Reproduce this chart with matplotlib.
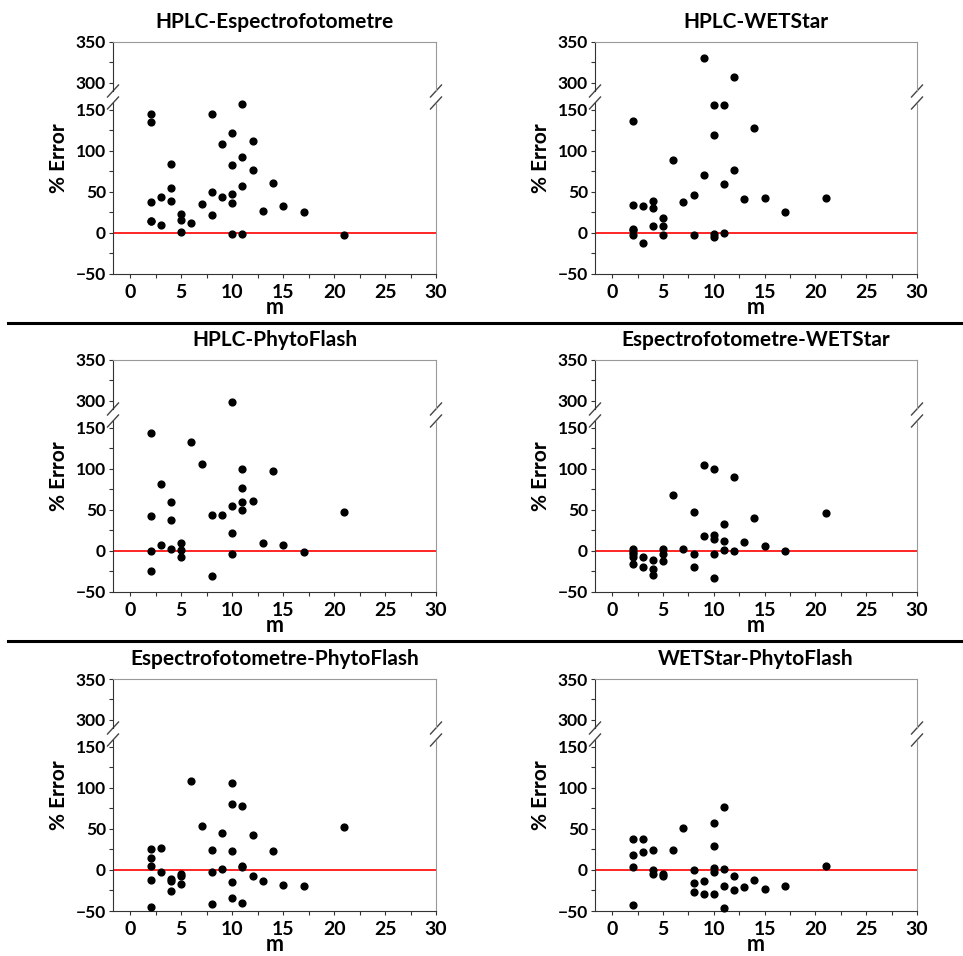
import numpy as np
import matplotlib.pyplot as plt
from matplotlib.lines import Line2D

plt.rcParams['font.family'] = ['Lato', 'DejaVu Sans']
plt.rcParams['font.weight'] = 'bold'

# Datos: m y % Error por comparacion
titulos = ['HPLC-Espectrofotometre', 'HPLC-WETStar',
           'HPLC-PhytoFlash', 'Espectrofotometre-WETStar',
           'Espectrofotometre-PhytoFlash', 'WETStar-PhytoFlash']

m_hplc_esp = [2, 2, 2, 2, 2, 3, 3, 4, 4, 4, 5, 5, 5, 6, 7, 8, 8, 8, 9, 9,
              10, 10, 10, 10, 10, 11, 11, 11, 11, 12, 12, 13, 14, 15, 17, 21]
err_hplc_esp = [145, 135, 37, 15, 14, 44, 9, 84, 55, 39, 23, 16, 1, 12, 35, 145, 50, 22, 108, 44,
                122, 82, 47, 36, -1, 157, 92, 57, -1, 112, 76, 27, 61, 33, 25, -3]

m_hplc_wet = [9, 12, 10, 11, 2, 14, 10, 6, 9, 12, 11, 8, 7, 13, 15, 17, 21,
              2, 2, 2, 2, 3, 3, 4, 4, 4, 5, 5, 5, 8, 10, 10, 11]
err_hplc_wet = [331, 307, 156, 156, 136, 127, 119, 89, 70, 76, 60, 46, 38, 41, 42, 26, 42,
                34, 5, 3, -2, 33, -12, 39, 30, 8, 18, 8, -2, -2, -1, -5, 0]

m_hplc_phy = [10, 2, 6, 7, 11, 14, 3, 11, 4, 11, 12, 10, 11, 21, 2, 8, 9, 4, 10, 13,
              3, 5, 15, 2, 4, 5, 17, 10, 5, 2, 8]
err_hplc_phy = [299, 144, 132, 106, 100, 97, 81, 76, 59, 59, 61, 54, 50, 47, 43, 44, 44, 37, 22, 10,
                7, 9, 7, 0, 2, 1, -1, -4, -8, -25, -30]

m_esp_wet = [9, 10, 12, 6, 8, 21, 14, 11, 9, 10, 10, 11, 13, 15, 7, 2, 2, 2, 2, 2,
             3, 3, 4, 4, 4, 5, 5, 5, 8, 8, 10, 10, 11, 12, 17]
err_esp_wet = [105, 100, 90, 68, 47, 46, 40, 33, 18, 19, 15, 12, 11, 6, 2, 2, -1, -4, -8, -16,
               -8, -20, -11, -22, -29, 2, -4, -12, -4, -20, -4, -33, 1, 0, 0]

m_esp_phy = [6, 10, 10, 11, 7, 21, 9, 12, 2, 3, 8, 10, 14, 2, 2, 11, 11, 9, 3, 8,
             5, 5, 12, 2, 4, 4, 13, 5, 10, 15, 17, 4, 10, 11, 8, 2]
err_esp_phy = [108, 106, 80, 78, 54, 52, 45, 43, 26, 27, 24, 23, 23, 14, 5, 5, 3, 1, -2, -3,
               -5, -7, -8, -12, -11, -14, -13, -17, -15, -18, -20, -26, -34, -40, -42, -45]

m_wet_phy = [11, 10, 7, 2, 3, 10, 4, 6, 3, 2, 2, 21, 4, 4, 5, 5, 8, 10, 10, 11,
             12, 14, 8, 9, 11, 13, 17, 12, 15, 8, 9, 10, 2, 11]
err_wet_phy = [77, 57, 51, 38, 37, 29, 24, 24, 22, 18, 4, 5, 0, -5, -5, -7, 0, 2, -2, 1,
               -7, -12, -16, -14, -20, -21, -20, -25, -23, -27, -29, -29, -43, -46]

series = [(m_hplc_esp, err_hplc_esp), (m_hplc_wet, err_hplc_wet),
          (m_hplc_phy, err_hplc_phy), (m_esp_wet, err_esp_wet),
          (m_esp_phy, err_esp_phy), (m_wet_phy, err_wet_phy)]

W, H = 963, 956
fig = plt.figure(figsize=(W / 100, H / 100), dpi=100)

col_x = [(113, 436), (595, 917)]
row_top = [42, 360, 679]


def px_axes(x0, x1, y0, y1):
    # caja en pixeles (y desde arriba) -> fraccion de figura
    return fig.add_axes([x0 / W, 1 - y1 / H, (x1 - x0) / W, (y1 - y0) / H])


def barra_corte(ax, ancho, alto, yfrac):
    dx = 5.5 / ancho
    dy = 6.0 / alto
    for xf in (0, 1):
        ax.plot([xf - dx, xf + dx], [yfrac - dy, yfrac + dy], transform=ax.transAxes,
                color='#444444', lw=1.0, clip_on=False)


for i, (titulo, (mx, err)) in enumerate(zip(titulos, series)):
    fila, col = divmod(i, 2)
    x0, x1 = col_x[col]
    t = row_top[fila]
    ax_sup = px_axes(x0, x1, t, t + 49)
    ax_inf = px_axes(x0, x1, t + 61, t + 232)

    mx = np.array(mx)
    err = np.array(err)
    alto = err > 200
    ax_sup.scatter(mx[alto], err[alto], s=24, color='black', zorder=3, clip_on=False)
    ax_inf.scatter(mx[~alto], err[~alto], s=24, color='black', zorder=3, clip_on=False)
    ax_inf.axhline(0, color='red', lw=1.2, zorder=2)

    ax_sup.set_ylim(290, 350)
    ax_inf.set_ylim(-50, 158)
    for ax in (ax_sup, ax_inf):
        ax.set_xlim(-1.7, 30)
        ax.spines['left'].set_color('#333333')
        ax.spines['right'].set_color('#999999')
        ax.spines['top'].set_color('#999999')
        ax.spines['bottom'].set_color('#333333')
        ax.tick_params(axis='y', which='both', direction='out', length=3, width=0.8,
                       labelsize=12.5, pad=2, colors='#333333', labelcolor='black')
        ax.tick_params(axis='x', which='both', direction='out', length=3, width=0.8,
                       labelsize=14, pad=4, colors='#333333', labelcolor='black')
    ax_sup.spines['bottom'].set_visible(False)
    ax_inf.spines['top'].set_visible(False)
    ax_sup.set_xticks([])
    ax_sup.set_yticks([300, 350])
    ax_sup.set_yticks([325], minor=True)
    ax_inf.set_yticks([-50, 0, 50, 100, 150])
    ax_inf.set_yticks(np.arange(-25, 150, 50), minor=True)
    ax_inf.set_xticks(np.arange(0, 31, 5))
    ax_inf.set_xticks(np.arange(2.5, 30, 5), minor=True)
    for lab in ax_sup.get_yticklabels() + ax_inf.get_yticklabels() + ax_inf.get_xticklabels():
        lab.set_fontweight('bold')

    barra_corte(ax_sup, x1 - x0, 49, 0)
    barra_corte(ax_inf, x1 - x0, 171, 1)

    cx = (x0 + x1) / 2
    fig.text(cx / W, 1 - (t - 20) / H, titulo, ha='center', va='center',
             fontsize=15, fontweight='bold')
    fig.text(cx / W, 1 - (t + 272) / H, 'm', ha='center', va='baseline',
             fontsize=15.5, fontweight='bold')
    fig.text((x0 - 54) / W, 1 - (t + 116) / H, '% Error', ha='center', va='center',
             rotation=90, fontsize=15, fontweight='bold')

# lineas separadoras entre filas
for yp in (323, 641):
    fig.add_artist(Line2D([8 / W, 1.0], [1 - yp / H, 1 - yp / H], color='black', lw=2.2))

fig.savefig('out.png', dpi=100)
